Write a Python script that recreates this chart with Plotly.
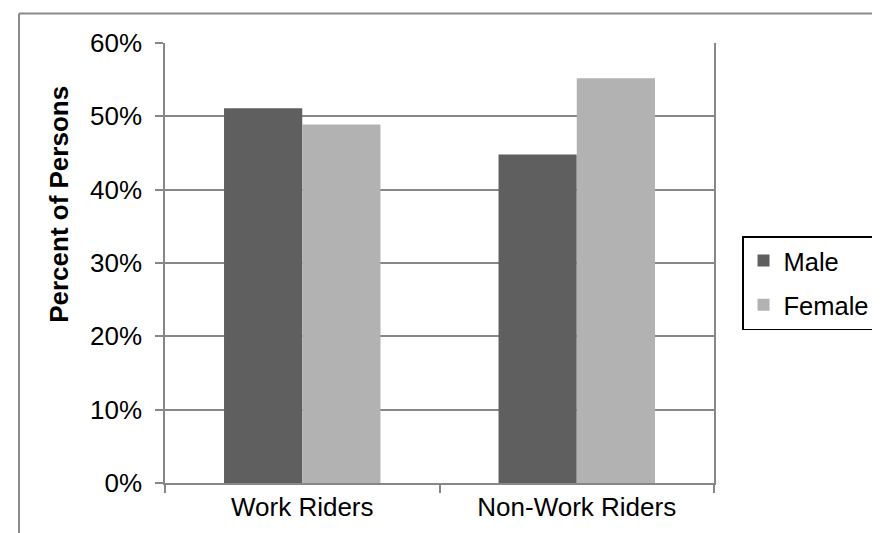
import plotly.graph_objects as go

categories = ["Work Riders", "Non-Work Riders"]
male = [0.511, 0.448]
female = [0.489, 0.552]
y_ticks = [0, 0.1, 0.2, 0.3, 0.4, 0.5, 0.6]

GRID = "#878787"
FONT = "Liberation Sans, Arial, sans-serif"

fig = go.Figure()
fig.add_trace(go.Bar(x=categories, y=male, name="Male", legendgroup="m",
                     marker=dict(color="#5f5f5f", line=dict(width=0))))
fig.add_trace(go.Bar(x=categories, y=female, name="Female", legendgroup="f",
                     marker=dict(color="#b2b2b2", line=dict(width=0))))

# plot area in pixels: x 157..715.5, y 35..475
W, H = 880, 533
L, R, T, B = 157, 715.5, 35, 475
def px(x):
    return (x - L) / (R - L)
def py(y):
    return (B - y) / (B - T)

fig.update_layout(
    width=W, height=H,
    margin=dict(l=L, r=W - R, t=T, b=H - B),
    paper_bgcolor="white", plot_bgcolor="white",
    font=dict(family=FONT, size=26, color="black"),
    barmode="group", bargap=0.43, bargroupgap=0,
    showlegend=True,
    legend=dict(x=px(744), y=py(228), xanchor="left", yanchor="top",
                bordercolor="black", borderwidth=1.5, bgcolor="white",
                font=dict(size=25.5), traceorder="grouped", tracegroupgap=8),
    xaxis=dict(showline=True, linecolor=GRID, linewidth=1.5, ticks="outside",
               tickson="boundaries", ticklen=8, tickcolor=GRID, tickwidth=1.5,
               showgrid=False),
    yaxis=dict(range=[0, 0.6], tickvals=y_ticks, tickformat=".0%",
               showline=True, linecolor=GRID, linewidth=1.5, mirror=True,
               ticks="outside", ticklen=8, tickcolor=GRID, tickwidth=1.5,
               ticklabelstandoff=8,
               showgrid=True, gridcolor=GRID, gridwidth=1.5, zeroline=False),
    annotations=[
        dict(text="<b>Percent of Persons</b>", textangle=-90, xref="paper", yref="paper",
             x=px(49), y=py(196), xanchor="center", yanchor="middle", showarrow=False,
             font=dict(size=26)),
    ],
    shapes=[
        dict(type="line", xref="paper", yref="paper", x0=px(8.5), x1=px(880), y0=py(5.5), y1=py(5.5),
             line=dict(color="#8a8a8a", width=2)),
        dict(type="line", xref="paper", yref="paper", x0=px(8.5), x1=px(8.5), y0=py(5.5), y1=py(533),
             line=dict(color="#8a8a8a", width=2)),
    ],
)

fig.write_html("out.html")
